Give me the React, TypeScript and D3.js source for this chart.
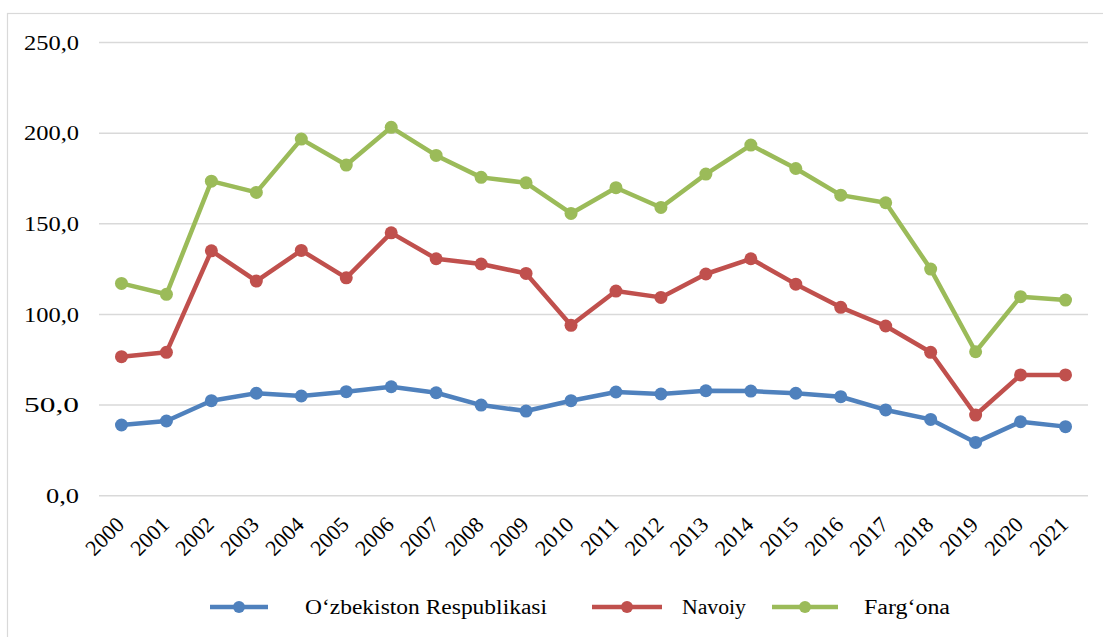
import React from "react";
import * as d3 from "d3";

const years = ["2000","2001","2002","2003","2004","2005","2006","2007","2008","2009","2010","2011","2012","2013","2014","2015","2016","2017","2018","2019","2020","2021"];
const uzbekistan = [39.0,41.2,52.4,56.5,55.0,57.4,60.1,56.8,50.0,46.7,52.4,57.2,56.1,57.9,57.7,56.5,54.6,47.3,42.1,29.4,40.8,38.1];
const navoiy = [76.7,79.1,135.1,118.4,135.3,120.2,145.0,130.7,127.8,122.6,94.0,112.9,109.4,122.3,130.7,116.7,103.9,93.6,79.1,44.5,66.6,66.6];
const fargona = [117.1,111.1,173.5,167.3,196.7,182.4,203.2,187.7,175.6,172.6,155.7,169.9,159.0,177.4,193.4,180.5,165.8,161.6,125.0,79.4,109.8,107.9];
const yTicks = [0,50,100,150,200,250];
const seriesNames = ["O‘zbekiston Respublikasi","Navoiy","Farg‘ona"];
const seriesColors = ["#4F81BD","#C0504D","#9BBB59"];

const W = 1103, H = 637;
const plot = { left: 99, right: 1088, top: 42.5, bottom: 495.7 };
const FONT = "'Times New Roman', Tinos, 'Liberation Serif', serif";

export default function App() {
  const x = d3.scaleBand<string>().domain(years).range([plot.left, plot.right]);
  const y = d3.scaleLinear().domain([0, 250]).range([plot.bottom, plot.top]);
  const cx = (yr: string) => (x(yr) as number) + x.bandwidth() / 2;
  const line = d3.line<number>().x((_, i) => cx(years[i])).y((v) => y(v));
  const all = [uzbekistan, navoiy, fargona];
  const fmt = (v: number) => v.toFixed(1).replace(".", ",");
  const ts = { fontFamily: FONT } as React.CSSProperties;

  const legend = [
    { lx1: 210, lx2: 268, tx: 305, tw: 242 },
    { lx1: 592, lx2: 662, tx: 682, tw: 64 },
    { lx1: 772, lx2: 838, tx: 864, tw: 86 },
  ];
  const ly = 607;

  return (
    <svg width={W} height={H} style={{ position: "absolute", left: 0, top: 0, background: "#fff" }}>
      <rect x={0} y={0} width={W} height={H} fill="#fff" />
      <rect x={7.5} y={13.5} width={1120} height={660} fill="none" stroke="#d9d9d9" strokeWidth={1.2} />
      {yTicks.map((t) => (
        <g key={t}>
          <line x1={plot.left} x2={plot.right} y1={y(t)} y2={y(t)} stroke="#d9d9d9" strokeWidth={1.5} />
          <text x={79} y={y(t)} dy="0.35em" textAnchor="end" fontSize={21} fill="#000" style={ts}
            textLength={t === 0 ? 33 : 55} lengthAdjust="spacingAndGlyphs">{fmt(t)}</text>
        </g>
      ))}
      {years.map((yr) => (
        <text key={yr} transform={`translate(${cx(yr) + 4},${526}) rotate(-45)`} textAnchor="end" fontSize={22} fill="#000" style={ts}>{yr}</text>
      ))}
      {all.map((s, si) => (
        <g key={si}>
          <path d={line(s) || ""} fill="none" stroke={seriesColors[si]} strokeWidth={4.5} strokeLinejoin="round" />
          {s.map((v, i) => (
            <circle key={i} cx={cx(years[i])} cy={y(v)} r={6.5} fill={seriesColors[si]} />
          ))}
        </g>
      ))}
      {legend.map((l, i) => (
        <g key={i}>
          <line x1={l.lx1} x2={l.lx2} y1={ly} y2={ly} stroke={seriesColors[i]} strokeWidth={4.5} />
          <circle cx={(l.lx1 + l.lx2) / 2} cy={ly} r={6} fill={seriesColors[i]} />
          <text x={l.tx} y={ly} dy="0.35em" fontSize={20} fill="#000" style={ts} textLength={l.tw} lengthAdjust="spacingAndGlyphs">{seriesNames[i]}</text>
        </g>
      ))}
    </svg>
  );
}
